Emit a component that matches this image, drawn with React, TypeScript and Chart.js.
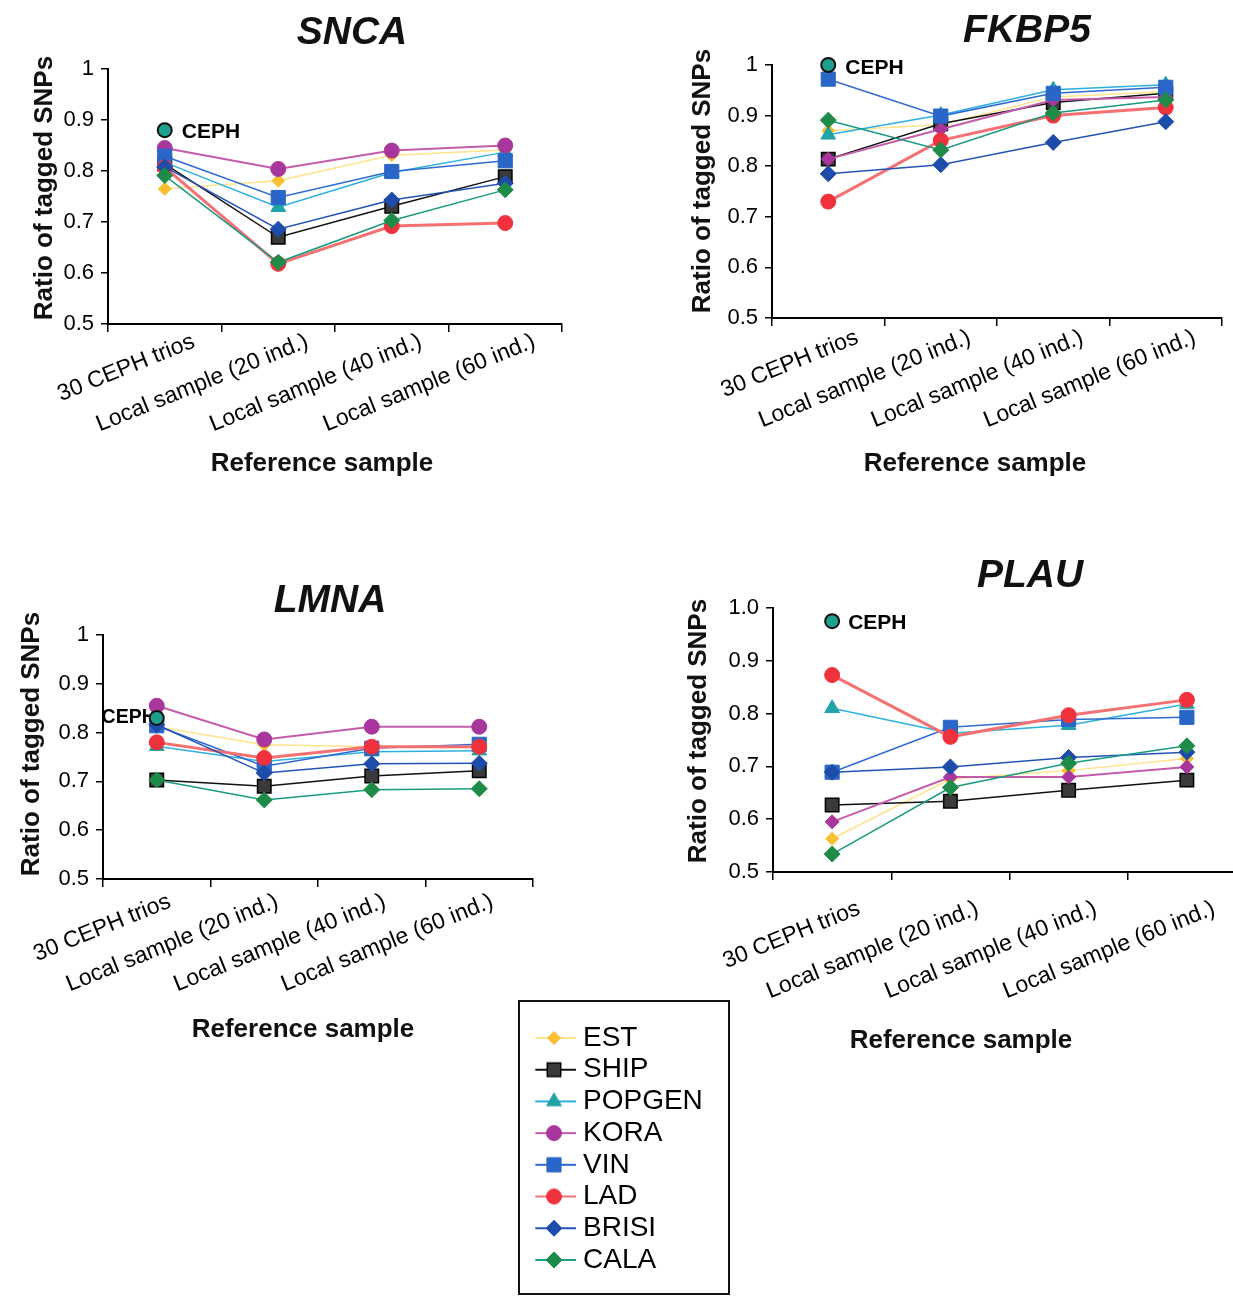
import React, { useEffect, useRef } from 'react';
import { Chart, registerables } from 'chart.js';

Chart.register(...registerables);

// ---------- data ----------
const CATEGORIES = ['30 CEPH trios', 'Local sample (20 ind.)', 'Local sample (40 ind.)', 'Local sample (60 ind.)'];
const SERIES = ['EST', 'SHIP', 'POPGEN', 'KORA', 'VIN', 'LAD', 'BRISI', 'CALA'];
const Y_TICK_LABELS = ['0.5', '0.6', '0.7', '0.8', '0.9', '1'];
const Y_TICK_LABELS_1DP = ['0.5', '0.6', '0.7', '0.8', '0.9', '1.0'];
const CEPH_LABEL = 'CEPH';
const X_TITLE = 'Reference sample';
const Y_TITLE = 'Ratio of tagged SNPs';

// SNCA
const SNCA_EST = [0.765, 0.781, 0.831, 0.841];
const SNCA_SHIP = [0.814, 0.670, 0.731, 0.789];
const SNCA_POPGEN = [0.817, 0.729, 0.797, 0.837];
const SNCA_KORA = [0.845, 0.804, 0.840, 0.850];
const SNCA_VIN = [0.829, 0.748, 0.799, 0.820];
const SNCA_LAD = [0.807, 0.618, 0.692, 0.698];
const SNCA_BRISI = [0.808, 0.686, 0.743, 0.776];
const SNCA_CALA = [0.791, 0.621, 0.703, 0.763];
const SNCA_CEPH = 0.880;

// FKBP5
const FKBP5_EST = [0.870, 0.882, 0.937, 0.947];
const FKBP5_SHIP = [0.814, 0.884, 0.926, 0.944];
const FKBP5_POPGEN = [0.862, 0.901, 0.951, 0.961];
const FKBP5_KORA = [0.814, 0.873, 0.931, 0.937];
const FKBP5_VIN = [0.972, 0.899, 0.944, 0.956];
const FKBP5_LAD = [0.730, 0.851, 0.900, 0.916];
const FKBP5_BRISI = [0.785, 0.803, 0.847, 0.888];
const FKBP5_CALA = [0.891, 0.832, 0.905, 0.931];
const FKBP5_CEPH = 1.0;

// LMNA
const LMNA_EST = [0.812, 0.775, 0.771, 0.772];
const LMNA_SHIP = [0.703, 0.690, 0.711, 0.722];
const LMNA_POPGEN = [0.772, 0.741, 0.761, 0.763];
const LMNA_KORA = [0.855, 0.786, 0.812, 0.812];
const LMNA_VIN = [0.814, 0.731, 0.768, 0.776];
const LMNA_LAD = [0.780, 0.748, 0.771, 0.771];
const LMNA_BRISI = [0.816, 0.717, 0.736, 0.737];
const LMNA_CALA = [0.703, 0.662, 0.683, 0.685];
const LMNA_CEPH = 0.830;

// PLAU
const PLAU_EST = [0.563, 0.676, 0.692, 0.715];
const PLAU_SHIP = [0.627, 0.634, 0.655, 0.674];
const PLAU_POPGEN = [0.810, 0.763, 0.778, 0.818];
const PLAU_KORA = [0.595, 0.680, 0.680, 0.699];
const PLAU_VIN = [0.689, 0.774, 0.789, 0.793];
const PLAU_LAD = [0.873, 0.756, 0.797, 0.826];
const PLAU_BRISI = [0.689, 0.699, 0.717, 0.727];
const PLAU_CALA = [0.534, 0.660, 0.706, 0.739];
const PLAU_CEPH = 0.975;

// ---------- styles ----------
const FONT = '"Liberation Sans", Arial, Helvetica, sans-serif';
Chart.defaults.font.family = FONT;
Chart.defaults.color = '#000';

type St = { line: string; point: string; border?: string; pbw?: number; style: string; r: number; lw: number };
const STYLE: Record<string, St> = {
  EST: { line: '#FFE38A', point: '#F8C030', style: 'rectRot', r: 6.5, lw: 1.5 },
  SHIP: { line: '#111111', point: '#3A3A3A', border: '#000000', pbw: 1.5, style: 'rect', r: 9.5, lw: 1.5 },
  POPGEN: { line: '#2DB0E0', point: '#22A3A8', style: 'triangle', r: 8.5, lw: 1.5 },
  KORA: { line: '#C45CAA', point: '#A8369C', style: 'circle', r: 7.5, lw: 2 },
  VIN: { line: '#2E6BD0', point: '#2A66C8', style: 'rect', r: 10, lw: 1.5 },
  LAD: { line: '#F57070', point: '#F0323E', style: 'circle', r: 7.5, lw: 3 },
  BRISI: { line: '#2453B6', point: '#1E4CAA', style: 'rectRot', r: 8, lw: 1.5 },
  CALA: { line: '#1A9A80', point: '#1E8C48', style: 'rectRot', r: 8, lw: 1.5 },
};
const CEPH_STYLE = { fill: '#1FA08E', border: '#111111', r: 7, bw: 2 };

type Rect = { left: number; top: number; width: number; height: number };
type Pt = { x: number; y: number };
type Panel = {
  title: string;
  values: number[][];
  ceph: number;
  yLabels: string[];
  koraStyle?: string;
  canvas: Rect;
  area: { left: number; top: number; right: number; bottom: number };
  tickShift: { x: number; pad: number };
  titlePos: Pt;
  xTitlePos: Pt;
  yTitlePos: Pt;
  cephLabel: { side: 'left' | 'right'; dx: number; dy: number; size: number };
};

const PANELS: Panel[] = [
  {
    title: 'SNCA',
    values: [SNCA_EST, SNCA_SHIP, SNCA_POPGEN, SNCA_KORA, SNCA_VIN, SNCA_LAD, SNCA_BRISI, SNCA_CALA],
    ceph: SNCA_CEPH,
    yLabels: Y_TICK_LABELS,
    canvas: { left: 0, top: 0, width: 616, height: 500 },
    area: { left: 108, top: 69, right: 562, bottom: 324 },
    tickShift: { x: 29, pad: -4 },
    titlePos: { x: 352, y: 30 },
    xTitlePos: { x: 322, y: 462 },
    yTitlePos: { x: 43, y: 188 },
    cephLabel: { side: 'right', dx: 17, dy: 2, size: 21 },
  },
  {
    title: 'FKBP5',
    values: [FKBP5_EST, FKBP5_SHIP, FKBP5_POPGEN, FKBP5_KORA, FKBP5_VIN, FKBP5_LAD, FKBP5_BRISI, FKBP5_CALA],
    ceph: FKBP5_CEPH,
    yLabels: Y_TICK_LABELS,
    koraStyle: 'rectRot',
    canvas: { left: 616, top: 0, width: 617, height: 500 },
    area: { left: 772, top: 65, right: 1225, bottom: 318 },
    tickShift: { x: 29, pad: -2 },
    titlePos: { x: 1027, y: 28 },
    xTitlePos: { x: 975, y: 462 },
    yTitlePos: { x: 701, y: 181 },
    cephLabel: { side: 'right', dx: 17, dy: 3, size: 21 },
  },
  {
    title: 'LMNA',
    values: [LMNA_EST, LMNA_SHIP, LMNA_POPGEN, LMNA_KORA, LMNA_VIN, LMNA_LAD, LMNA_BRISI, LMNA_CALA],
    ceph: LMNA_CEPH,
    yLabels: Y_TICK_LABELS,
    canvas: { left: 0, top: 560, width: 616, height: 500 },
    area: { left: 103, top: 635, right: 533, bottom: 879 },
    tickShift: { x: 13, pad: 1 },
    titlePos: { x: 330, y: 598 },
    xTitlePos: { x: 303, y: 1028 },
    yTitlePos: { x: 30, y: 744 },
    cephLabel: { side: 'left', dx: -1, dy: 0, size: 19.5 },
  },
  {
    title: 'PLAU',
    values: [PLAU_EST, PLAU_SHIP, PLAU_POPGEN, PLAU_KORA, PLAU_VIN, PLAU_LAD, PLAU_BRISI, PLAU_CALA],
    ceph: PLAU_CEPH,
    yLabels: Y_TICK_LABELS_1DP,
    koraStyle: 'rectRot',
    canvas: { left: 616, top: 540, width: 650, height: 530 },
    area: { left: 773, top: 608, right: 1246, bottom: 872 },
    tickShift: { x: 27, pad: 15 },
    titlePos: { x: 1030, y: 573 },
    xTitlePos: { x: 961, y: 1039 },
    yTitlePos: { x: 697, y: 731 },
    cephLabel: { side: 'right', dx: 16, dy: 2, size: 21 },
  },
];

const LEGEND_BOX = { left: 518, top: 1000, width: 212, height: 295 };

// ---------- plugins ----------
const cephLabelPlugin = {
  id: 'cephLabel',
  beforeDatasetsDraw(chart: any, _args: any, opts: any) {
    const idx = chart.data.datasets.length - 1;
    const meta = chart.getDatasetMeta(idx);
    const pt = meta && meta.data && meta.data[0];
    if (!pt || !opts || !opts.text) return;
    const ctx = chart.ctx;
    ctx.save();
    ctx.font = `bold ${opts.size}px ${FONT}`;
    ctx.fillStyle = '#000';
    ctx.textBaseline = 'middle';
    ctx.textAlign = opts.side === 'left' ? 'right' : 'left';
    ctx.fillText(opts.text, pt.x + opts.dx, pt.y + opts.dy);
    ctx.restore();
  },
};

function buildPanelConfig(p: Panel): any {
  const c = p.canvas;
  const pt = p.area.top - c.top;
  const pr = c.left + c.width - p.area.right;
  const yW = p.area.left - c.left;
  const xH = c.top + c.height - p.area.bottom;

  const datasets: any[] = SERIES.map((name, i) => {
    const st = STYLE[name];
    const style = name === 'KORA' && p.koraStyle ? p.koraStyle : st.style;
    const r = name === 'KORA' && p.koraStyle ? 7 : st.r;
    return {
      label: name,
      data: p.values[i],
      borderColor: st.line,
      backgroundColor: st.point,
      borderWidth: st.lw,
      pointStyle: style,
      pointRadius: r,
      pointHoverRadius: r,
      pointBackgroundColor: st.point,
      pointBorderColor: st.border ?? st.point,
      pointBorderWidth: st.pbw ?? 1,
      tension: 0,
      clip: false,
      order: SERIES.length - i,
    };
  });
  datasets.push({
    label: CEPH_LABEL,
    data: [p.ceph, null, null, null],
    showLine: false,
    pointStyle: 'circle',
    pointRadius: CEPH_STYLE.r,
    pointHoverRadius: CEPH_STYLE.r,
    pointBackgroundColor: CEPH_STYLE.fill,
    pointBorderColor: CEPH_STYLE.border,
    pointBorderWidth: CEPH_STYLE.bw,
    backgroundColor: CEPH_STYLE.fill,
    borderColor: CEPH_STYLE.border,
    clip: false,
    order: 0,
  });

  return {
    type: 'line',
    data: { labels: CATEGORIES, datasets },
    options: {
      animation: false,
      responsive: false,
      maintainAspectRatio: false,
      events: [],
      layout: { padding: { left: 0, top: pt, right: pr, bottom: 0 } },
      plugins: {
        legend: { display: false },
        tooltip: { enabled: false },
        title: { display: false },
        cephLabel: { text: CEPH_LABEL, ...p.cephLabel },
      },
      scales: {
        x: {
          type: 'category',
          offset: true,
          grid: { offset: true, drawOnChartArea: false, drawTicks: true, color: '#000', lineWidth: 1.5, tickLength: 8 },
          border: { display: true, color: '#000', width: 2 },
          ticks: {
            color: '#000',
            font: { size: 23 },
            minRotation: 22,
            maxRotation: 22,
            autoSkip: false,
            labelOffset: p.tickShift.x,
            padding: p.tickShift.pad,
          },
          title: { display: false },
          afterFit: (s: any) => { s.height = xH; },
        },
        y: {
          min: 0.5,
          max: 1,
          grid: { drawOnChartArea: false, drawTicks: true, color: '#000', lineWidth: 1.5, tickLength: 7 },
          border: { display: true, color: '#000', width: 2 },
          ticks: {
            stepSize: 0.1,
            color: '#000',
            font: { size: 22 },
            padding: 7,
            callback: (_v: any, i: number) => p.yLabels[i],
          },
          title: { display: false },
          afterFit: (s: any) => { s.width = yW; },
        },
      },
    },
    plugins: [cephLabelPlugin],
  };
}

// ---------- legend ----------
function makeLegendIcon(name: string): HTMLCanvasElement {
  const st = STYLE[name];
  const w = 44, h = 22;
  const cv = document.createElement('canvas');
  cv.width = w;
  cv.height = h;
  const ctx = cv.getContext('2d')!;
  const cx = w / 2, cy = h / 2;
  ctx.strokeStyle = st.line;
  ctx.lineWidth = 2;
  ctx.beginPath();
  ctx.moveTo(0, cy);
  ctx.lineTo(w, cy);
  ctx.stroke();
  ctx.fillStyle = st.point;
  ctx.strokeStyle = st.border ?? st.point;
  ctx.lineWidth = st.pbw ?? 1;
  const r = st.r;
  ctx.beginPath();
  if (st.style === 'circle') {
    ctx.arc(cx, cy, r, 0, Math.PI * 2);
  } else if (st.style === 'rect') {
    const s = r * Math.SQRT1_2;
    ctx.rect(cx - s, cy - s, 2 * s, 2 * s);
  } else if (st.style === 'rectRot') {
    ctx.moveTo(cx, cy - r);
    ctx.lineTo(cx + r, cy);
    ctx.lineTo(cx, cy + r);
    ctx.lineTo(cx - r, cy);
    ctx.closePath();
  } else if (st.style === 'triangle') {
    ctx.moveTo(cx, cy - r);
    ctx.lineTo(cx + r * Math.sin(Math.PI * 2 / 3), cy - r * Math.cos(Math.PI * 2 / 3));
    ctx.lineTo(cx - r * Math.sin(Math.PI * 2 / 3), cy - r * Math.cos(Math.PI * 2 / 3));
    ctx.closePath();
  }
  ctx.fill();
  ctx.stroke();
  return cv;
}

function buildLegendConfig(): any {
  const icons = SERIES.map(makeLegendIcon);
  const padding = 3.7;
  const fontSize = 28;
  const boxW = 30;
  return {
    type: 'line',
    data: {
      labels: [],
      datasets: SERIES.map((name) => ({ label: name, data: [], borderColor: STYLE[name].line, backgroundColor: STYLE[name].point })),
    },
    options: {
      animation: false,
      responsive: false,
      maintainAspectRatio: false,
      events: [],
      layout: { padding: { left: 34 - boxW / 2 - padding, top: 36 - padding - fontSize / 2, right: 0, bottom: 0 } },
      scales: { x: { display: false }, y: { display: false } },
      plugins: {
        tooltip: { enabled: false },
        legend: {
          display: true,
          position: 'left',
          align: 'start',
          maxWidth: 300,
          labels: {
            usePointStyle: true,
            pointStyleWidth: boxW,
            padding,
            color: '#000',
            font: { size: fontSize },
            generateLabels: () =>
              SERIES.map((name, i) => ({
                text: name,
                pointStyle: icons[i],
                fillStyle: STYLE[name].point,
                strokeStyle: STYLE[name].line,
                lineWidth: 0,
                hidden: false,
                datasetIndex: i,
                fontColor: '#000',
              })),
          },
        },
      },
    },
  };
}

// ---------- components ----------
const AXIS_TITLE_SIZE = 26;

function TextAt({ text, x, y, size, italic, rotate }: { text: string; x: number; y: number; size: number; italic?: boolean; rotate?: boolean }) {
  const w = 420;
  return (
    <div
      style={{
        position: 'absolute',
        left: x - w / 2,
        top: y - size / 2,
        width: w,
        height: size,
        textAlign: 'center',
        font: `${italic ? 'italic ' : ''}bold ${size}px ${FONT}`,
        lineHeight: `${size}px`,
        whiteSpace: 'nowrap',
        color: '#111',
        transform: rotate ? 'rotate(-90deg)' : undefined,
        transformOrigin: '50% 50%',
      }}
    >
      {text}
    </div>
  );
}

function PanelChart({ panel }: { panel: Panel }) {
  const ref = useRef<HTMLCanvasElement>(null);
  useEffect(() => {
    const chart = new Chart(ref.current as HTMLCanvasElement, buildPanelConfig(panel));
    return () => chart.destroy();
  }, [panel]);
  const c = panel.canvas;
  return (
    <>
      <canvas
        ref={ref}
        width={c.width}
        height={c.height}
        style={{ position: 'absolute', left: c.left, top: c.top, width: c.width, height: c.height }}
      />
      <TextAt text={panel.title} x={panel.titlePos.x} y={panel.titlePos.y} size={39} italic />
      <TextAt text={X_TITLE} x={panel.xTitlePos.x} y={panel.xTitlePos.y} size={AXIS_TITLE_SIZE} />
      <TextAt text={Y_TITLE} x={panel.yTitlePos.x} y={panel.yTitlePos.y} size={AXIS_TITLE_SIZE} rotate />
    </>
  );
}

function LegendChart() {
  const ref = useRef<HTMLCanvasElement>(null);
  const w = LEGEND_BOX.width - 4;
  const h = LEGEND_BOX.height - 4;
  useEffect(() => {
    const chart = new Chart(ref.current as HTMLCanvasElement, buildLegendConfig());
    return () => chart.destroy();
  }, []);
  return (
    <div
      style={{
        position: 'absolute',
        left: LEGEND_BOX.left,
        top: LEGEND_BOX.top,
        width: w,
        height: h,
        border: '2px solid #111',
        background: '#fff',
      }}
    >
      <canvas ref={ref} width={w} height={h} style={{ display: 'block', width: w, height: h }} />
    </div>
  );
}

export default function App() {
  return (
    <div
      style={{
        position: 'absolute',
        left: 0,
        top: 0,
        width: 1233,
        height: 1296,
        overflow: 'hidden',
        background: '#fff',
      }}
    >
      {PANELS.map((p) => (
        <PanelChart key={p.title} panel={p} />
      ))}
      <LegendChart />
    </div>
  );
}
